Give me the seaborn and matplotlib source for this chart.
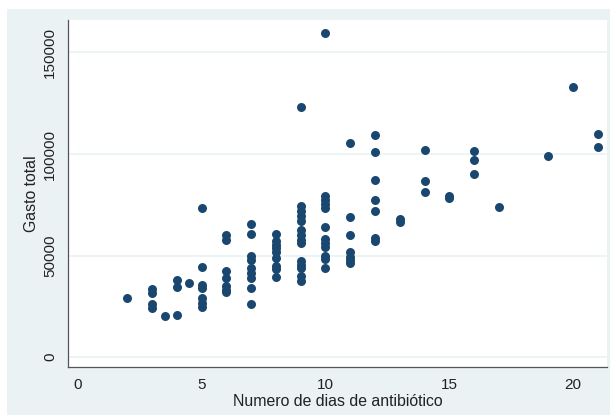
import pandas as pd
import matplotlib.pyplot as plt
import seaborn as sns
import numpy as np
from matplotlib.patches import Rectangle

# Datos: días de antibiótico y gasto total
dias = (
    [2]
    + [3] * 4
    + [3.5]
    + [4] * 3
    + [4.5]
    + [5] * 7
    + [6] * 7
    + [7] * 9
    + [8] * 9
    + [9] * 14
    + [10] * 12
    + [11] * 7
    + [12] * 7
    + [13] * 2
    + [14] * 3
    + [15] * 2
    + [16] * 3
    + [17, 19, 20]
    + [21] * 2
)
gasto = [
    29000,
    33500, 31500, 26000, 24000,
    20000,
    38000, 34500, 20700,
    36500,
    73500, 44500, 35500, 34000, 29000, 26500, 24500,
    60000, 57500, 42500, 39000, 35000, 33000, 32000,
    65500, 60500, 50000, 48000, 44000, 41500, 39000, 34000, 26000,
    60500, 57000, 55000, 53500, 51500, 49000, 45000, 43500, 39500,
    123000, 74500, 72000, 69500, 67000, 62500, 60000, 57500, 56000,
    47500, 45500, 44000, 40000, 37500,
    159500, 79500, 77500, 75500, 73500, 64000, 58000, 56000, 54000,
    50000, 48500, 44000,
    105500, 69000, 60000, 51500, 49500, 48000, 46500,
    109500, 101000, 87000, 77500, 72000, 58500, 57000,
    68000, 66500,
    102000, 86500, 81500,
    79500, 78500,
    101500, 97000, 90000,
    74000, 99000, 133000,
    110000, 103500,
]

xticks = [0, 5, 10, 15, 20]
yticks = [0, 50000, 100000, 150000]

df = pd.DataFrame({'dias': dias, 'gasto': gasto})

sns.set_style('white')
plt.rcParams['font.family'] = ['Liberation Sans', 'DejaVu Sans']

W, H = 615, 415
fig = plt.figure(figsize=(W / 100, H / 100), dpi=100, facecolor='white')

# fondo tipo Stata (detrás de los ejes)
fondo = Rectangle((7 / W, 0), (610 - 7) / W, (H - 9) / H,
                  transform=fig.transFigure, facecolor='#eaf2f3',
                  edgecolor='none', zorder=-10)
fig.add_artist(fondo)

ax = fig.add_axes([68 / W, (H - 367) / H, (607 - 68) / W, (367 - 20) / H])
ax.set_zorder(5)
ax.set_facecolor('white')

sns.scatterplot(data=df, x='dias', y='gasto', color='#1a476f', s=42,
                linewidth=0, ax=ax, zorder=3)

ax.set_xlim(-0.4, 21.37)
ax.set_ylim(-4900, 166000)
ax.set_xticks(xticks)
ax.set_yticks(yticks)
ax.set_yticklabels([str(v) for v in yticks], rotation=90, va='center')

ax.grid(True, axis='y', color='#eaf2f3', linewidth=1.2)
ax.grid(False, axis='x')
ax.set_axisbelow(True)

for s in ['top', 'right']:
    ax.spines[s].set_visible(False)
for s in ['left', 'bottom']:
    ax.spines[s].set_color('#555555')
    ax.spines[s].set_linewidth(0.9)

ax.tick_params(axis='both', which='major', length=5, width=0.9, color='#555555',
               labelsize=11, labelcolor='#222222', direction='out', pad=3)

ax.set_xlabel('Numero de dias de antibiótico', fontsize=11.4, color='#222222', labelpad=1)
ax.set_ylabel('Gasto total', fontsize=11.4, color='#222222', labelpad=3)

plt.savefig('out.png', dpi=100, facecolor='white')
